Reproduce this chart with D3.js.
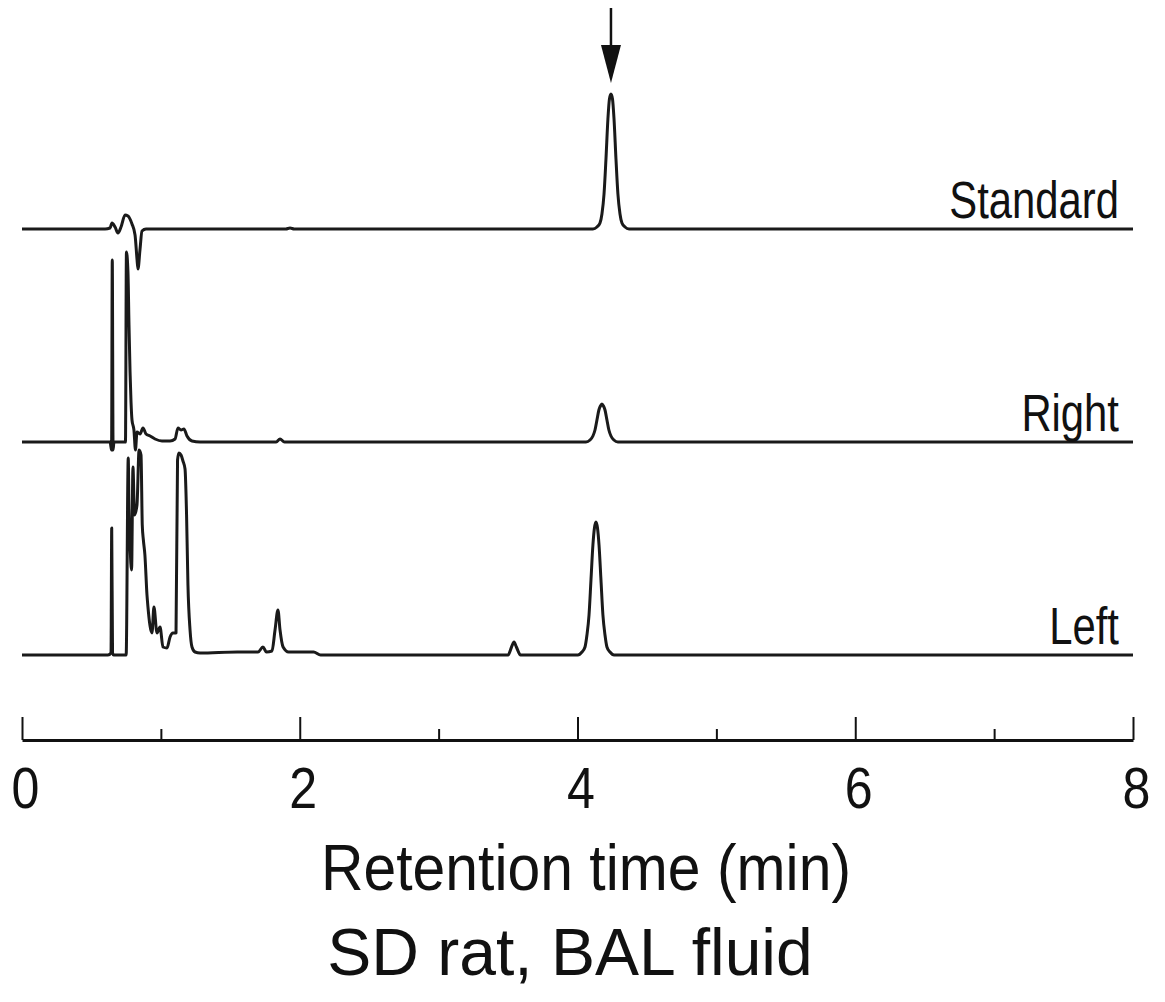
<!DOCTYPE html>
<html>
<head>
<meta charset="utf-8">
<title>Chromatogram</title>
<script src="https://d3js.org/d3.v7.min.js"></script>
<style>
  body { margin: 0; background: #fff; }
  text { font-family: "Liberation Sans", Arial, sans-serif; fill: #111; }
</style>
</head>
<body>
<div id="chart"></div>
<script>
// retention time (min) vs detector signal (arbitrary units)
let standardData = [
  [0, 0], [0.598, 0], [0.634, 1], [0.648, 6], [0.670, 2], [0.691, -4], [0.713, 2],
  [0.742, 14], [0.763, 13], [0.792, 5], [0.814, -6], [0.828, -30], [0.835, -40],
  [0.850, -20], [0.864, -2], [0.893, 0], [1.90, 0], [1.93, 1], [1.96, 0],
  [4.111, 0], [4.140, 2], [4.162, 6], [4.176, 15], [4.191, 35], [4.205, 70],
  [4.219, 110], [4.230, 130], [4.241, 135], [4.252, 130], [4.263, 110], [4.277, 70],
  [4.291, 35], [4.306, 15], [4.320, 6], [4.342, 2], [4.371, 0], [8, 0]
];

let rightData = [
  [0, 0], [0.634, 0], [0.645, -8], [0.650, 182], [0.656, -8], [0.662, 0],
  [0.745, 0], [0.752, 190], [0.763, 170], [0.770, 120], [0.778, 70], [0.785, 40],
  [0.792, 22], [0.806, 12], [0.817, -8], [0.828, 10], [0.850, 8], [0.871, 14],
  [0.893, 8], [0.922, 6], [0.958, 3], [1.008, 1], [1.066, 1], [1.102, 3],
  [1.123, 14], [1.145, 12], [1.166, 13], [1.188, 6], [1.224, 1], [1.282, 0],
  [1.83, 0], [1.858, 3], [1.89, 0],
  [4.061, 0], [4.090, 2], [4.111, 6], [4.126, 12], [4.140, 22], [4.154, 32],
  [4.165, 36], [4.176, 38], [4.187, 36], [4.198, 32], [4.212, 22], [4.226, 12],
  [4.241, 6], [4.262, 2], [4.291, 0], [8, 0]
];

let leftData = [
  [0, 0], [0.619, 0], [0.641, 2], [0.646, 127], [0.652, 2], [0.660, 0],
  [0.750, 0], [0.765, 197], [0.770, 150], [0.778, 110], [0.789, 85], [0.799, 188],
  [0.810, 140], [0.828, 150], [0.843, 205], [0.857, 200], [0.866, 130], [0.874, 115],
  [0.885, 100], [0.900, 60], [0.907, 48], [0.936, 22], [0.950, 48], [0.972, 22],
  [0.994, 28], [1.015, 8], [1.044, 7], [1.066, 18], [1.087, 22], [1.109, 22],
  [1.120, 195], [1.130, 202], [1.145, 200], [1.159, 194], [1.174, 186], [1.185, 140],
  [1.195, 70], [1.210, 25], [1.224, 8], [1.246, 3], [1.282, 2], [1.55, 3],
  [1.70, 3], [1.735, 8], [1.76, 3], [1.80, 4], [1.822, 25], [1.843, 45],
  [1.858, 25], [1.88, 8], [1.92, 3], [2.10, 3], [2.15, 0],
  [3.50, 0], [3.525, 8], [3.543, 13], [3.560, 8], [3.59, 0],
  [4.003, 0], [4.032, 3], [4.054, 8], [4.068, 20], [4.083, 40], [4.097, 75],
  [4.111, 110], [4.122, 127], [4.133, 133], [4.144, 127], [4.155, 110], [4.169, 75],
  [4.183, 40], [4.198, 20], [4.212, 8], [4.234, 3], [4.263, 0], [8, 0]
];

let traceNames = ["Standard", "Right", "Left"];
let majorTicks = [0, 2, 4, 6, 8];
let minorTicks = [1, 3, 5, 7];
let arrowTime = 4.241;

let traces = [
  {name: traceNames[0], data: standardData, offset: 426},
  {name: traceNames[1], data: rightData, offset: 213},
  {name: traceNames[2], data: leftData, offset: 0}
];

let width = 1165, height = 1002;
let svg = d3.select("#chart")
    .append("svg")
    .attr("width", width)
    .attr("height", height);

let xScale = d3.scaleLinear().domain([0, 8]).range([22, 1133]);
// one signal unit = one pixel, Left baseline at 655
let yScale = d3.scaleLinear().domain([0, 640]).range([655, 15]);

let line = d3.line()
    .x(d => xScale(d[0]))
    .y(d => yScale(d[1]))
    .curve(d3.curveMonotoneX);

traces.forEach(function(tr) {
  svg.append("path")
     .datum(tr.data.map(d => [d[0], d[1] + tr.offset]))
     .attr("fill", "none")
     .attr("stroke", "#1a1a1a")
     .attr("stroke-width", 3)
     .attr("stroke-linejoin", "round")
     .attr("d", line);

  svg.append("text")
     .attr("transform", "translate(1119," + (yScale(tr.offset) - 11) + ") scale(0.82,1)")
     .attr("text-anchor", "end")
     .style("font-size", "51px")
     .text(tr.name);
});

// arrow over the standard peak
let ax = xScale(arrowTime);
svg.append("line")
   .attr("x1", ax).attr("x2", ax)
   .attr("y1", 8).attr("y2", 48)
   .attr("stroke", "#111")
   .attr("stroke-width", 2.5);
svg.append("path")
   .attr("d", "M" + (ax - 10) + ",45 L" + (ax + 10) + ",45 L" + ax + ",83 Z")
   .attr("fill", "#111");

// x axis, ticks pointing up
let axisY = 740;
let xAxis = d3.axisBottom(xScale)
    .tickValues(majorTicks)
    .tickSize(-23)
    .tickSizeOuter(0)
    .tickPadding(28)
    .tickFormat(d3.format("d"));

let gx = svg.append("g")
    .attr("transform", "translate(0," + axisY + ")")
    .call(xAxis);
gx.select(".domain").attr("stroke", "#111").attr("stroke-width", 3);
gx.selectAll(".tick line").attr("stroke", "#111").attr("stroke-width", 2);
gx.selectAll(".tick text")
  .attr("fill", "#111")
  .style("font-size", "57px")
  .style("font-family", "Liberation Sans, Arial, sans-serif")
  .attr("transform", "translate(3,0) scale(0.88,1)");

let minorAxis = d3.axisBottom(xScale)
    .tickValues(minorTicks)
    .tickSize(-11)
    .tickSizeOuter(0)
    .tickFormat("");
let gm = svg.append("g")
    .attr("transform", "translate(0," + axisY + ")")
    .call(minorAxis);
gm.select(".domain").remove();
gm.selectAll(".tick line").attr("stroke", "#111").attr("stroke-width", 2);

// titles
svg.append("text")
   .attr("transform", "translate(" + 586 + ",890) scale(0.92,1)")
   .attr("text-anchor", "middle")
   .style("font-size", "64px")
   .text("Retention time (min)");

svg.append("text")
   .attr("transform", "translate(" + 570 + ",975)")
   .attr("text-anchor", "middle")
   .style("font-size", "66px")
   .text("SD rat, BAL fluid");
</script>
</body>
</html>
